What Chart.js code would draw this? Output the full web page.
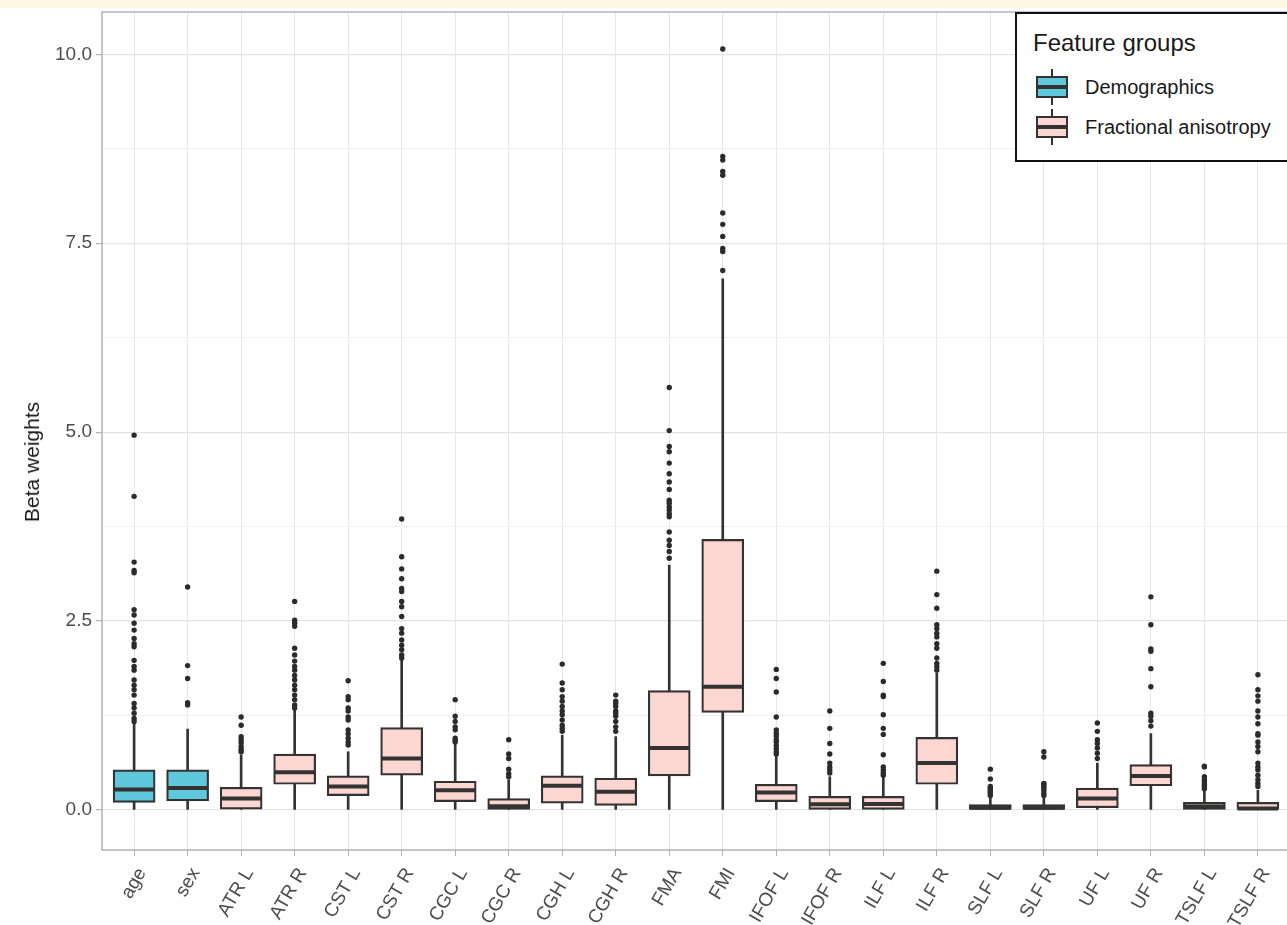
<!DOCTYPE html>
<html>
<head>
<meta charset="utf-8">
<script src="https://cdn.jsdelivr.net/npm/chart.js@4"></script>
<style>
html,body{margin:0;padding:0;background:#fff;overflow:hidden;width:1287px;height:925px;}
#wrap{position:relative;width:1290px;height:925px;}
#band{position:absolute;left:0;top:0;width:1290px;height:8px;background:#fdf8e4;z-index:2;}
#c{position:absolute;left:0;top:0;}
#ytitle{position:absolute;left:32px;top:462px;transform:translate(-50%,-50%) rotate(-90deg);font:21px "Liberation Sans",Arial,sans-serif;color:#1a1a1a;white-space:nowrap;}
#legend{position:absolute;left:1015px;top:12px;width:290px;height:150px;border:2px solid #111;background:#fff;box-sizing:border-box;font-family:"Liberation Sans",Arial,sans-serif;color:#1a1a1a;}
#legend .title{position:absolute;left:16px;top:29px;transform:translateY(-50%);font-size:24px;white-space:nowrap;}
#legend .lab{position:absolute;left:68px;transform:translateY(-50%);font-size:20px;white-space:nowrap;}
#legend .wh{position:absolute;left:34px;width:2px;background:#333;}
#legend .bx{position:absolute;left:19px;width:32px;border:2px solid #333;box-sizing:border-box;}
#legend .md{position:absolute;left:19px;width:32px;height:4px;background:#333;}
</style>
</head>
<body>
<div id="wrap">
  <div id="band"></div>
  <canvas id="c" width="1290" height="925"></canvas>
  <div id="ytitle">Beta weights</div>
  <div id="legend"></div>
</div>
<script>
const categories = ['age','sex','ATR L','ATR R','CST L','CST R','CGC L','CGC R','CGH L','CGH R','FMA','FMI','IFOF L','IFOF R','ILF L','ILF R','SLF L','SLF R','UF L','UF R','TSLF L','TSLF R'];
const groupOf = ['Demographics','Demographics','Fractional anisotropy','Fractional anisotropy','Fractional anisotropy','Fractional anisotropy','Fractional anisotropy','Fractional anisotropy','Fractional anisotropy','Fractional anisotropy','Fractional anisotropy','Fractional anisotropy','Fractional anisotropy','Fractional anisotropy','Fractional anisotropy','Fractional anisotropy','Fractional anisotropy','Fractional anisotropy','Fractional anisotropy','Fractional anisotropy','Fractional anisotropy','Fractional anisotropy'];

const lowerWhisker = [0,0,0,0,0,0,0,0,0,0,0,0,0,0,0,0,0,0,0,0,0,0];
const q1 =     [0.10,0.12,0.01,0.34,0.19,0.46,0.11,0.00,0.09,0.06,0.45,1.29,0.11,0.00,0.00,0.34,0.00,0.00,0.03,0.32,0.00,0.00];
const median = [0.27,0.29,0.15,0.50,0.31,0.68,0.26,0.05,0.32,0.24,0.82,1.63,0.23,0.075,0.08,0.62,0.03,0.03,0.15,0.45,0.045,0.02];
const q3 =     [0.53,0.53,0.30,0.74,0.45,1.09,0.38,0.15,0.45,0.42,1.58,3.58,0.34,0.18,0.18,0.96,0.07,0.07,0.29,0.60,0.10,0.10];
const upperWhisker = [1.15,1.07,0.73,1.33,0.77,1.98,0.87,0.40,0.99,0.97,3.24,7.03,0.71,0.44,0.44,1.81,0.17,0.16,0.62,1.01,0.25,0.26];

const outliers = [
  [4.96,4.15,3.28,3.17,3.14,2.65,2.58,2.47,2.38,2.27,2.20,2.16,1.98,1.90,1.85,1.72,1.65,1.59,1.52,1.41,1.35,1.28,1.21,1.17],
  [2.95,1.91,1.74,1.42,1.39],
  [1.23,1.12,0.97,0.93,0.89,0.84,0.80,0.77],
  [2.76,2.51,2.47,2.43,2.14,2.05,1.97,1.90,1.85,1.78,1.72,1.65,1.59,1.52,1.46,1.39,1.35],
  [1.71,1.50,1.46,1.35,1.31,1.23,1.19,1.06,1.01,0.95,0.90,0.86],
  [3.85,3.35,3.19,3.06,2.93,2.89,2.76,2.69,2.56,2.40,2.34,2.25,2.18,2.12,2.05,2.01],
  [1.46,1.24,1.17,1.10,1.06,0.95,0.92,0.90],
  [0.93,0.74,0.68,0.54,0.48,0.44],
  [1.93,1.68,1.59,1.50,1.44,1.37,1.31,1.26,1.19,1.12,1.08,1.04],
  [1.52,1.44,1.41,1.37,1.31,1.28,1.24,1.17,1.10,1.04],
  [5.59,5.02,4.81,4.74,4.59,4.45,4.34,4.24,4.10,4.06,4.01,3.97,3.92,3.88,3.68,3.57,3.50,3.42,3.33],
  [10.07,8.65,8.60,8.45,8.40,7.90,7.75,7.59,7.43,7.39,7.14],
  [1.86,1.74,1.56,1.23,1.06,1.02,0.98,0.93,0.90,0.85,0.81,0.77,0.74],
  [1.31,1.08,0.88,0.74,0.62,0.57,0.53,0.49],
  [1.94,1.70,1.52,1.50,1.26,1.08,1.00,0.73,0.57,0.53,0.49,0.46],
  [3.16,2.85,2.67,2.45,2.40,2.34,2.29,2.20,2.14,2.01,1.94,1.90,1.85],
  [0.54,0.41,0.31,0.29,0.27,0.25,0.23,0.21,0.19],
  [0.77,0.70,0.35,0.34,0.31,0.29,0.26,0.22,0.19],
  [1.15,1.04,0.93,0.88,0.82,0.75,0.68],
  [2.82,2.45,2.13,2.10,1.87,1.63,1.28,1.24,1.18,1.11],
  [0.58,0.57,0.44,0.40,0.37,0.34,0.31,0.28],
  [1.79,1.59,1.51,1.44,1.31,1.23,1.14,1.01,0.99,0.90,0.84,0.77,0.62,0.57,0.53,0.46,0.40,0.35,0.31]
];

const yMajorTicks = [0, 2.5, 5, 7.5, 10];
const yMinorTicks = [1.25, 3.75, 6.25, 8.75];
const legendTitle = 'Feature groups';
const legendGroups = ['Demographics', 'Fractional anisotropy'];
const groupColors = ['#5fc8da', '#fcd6d0'];

const FONT = '"Liberation Sans", Arial, sans-serif';
const idx = categories.map((_, i) => i);
const boxFill = groupOf.map(g => groupColors[legendGroups.indexOf(g)]);
const isMajor = v => yMajorTicks.some(m => Math.abs(m - v) < 1e-9);

const panelBorder = {
  id: 'panelBorder',
  afterDatasetsDraw(chart) {
    const {ctx, chartArea: a} = chart;
    ctx.save();
    ctx.strokeStyle = '#b3b3b3';
    ctx.lineWidth = 1.5;
    ctx.strokeRect(a.left, a.top, a.right - a.left, a.bottom - a.top);
    ctx.restore();
  }
};

new Chart(document.getElementById('c'), {
  type: 'bar',
  data: {
    datasets: [
      {
        type: 'bar', label: 'whiskers',
        data: idx.map(i => ({x: i, y: [lowerWhisker[i], upperWhisker[i]]})),
        backgroundColor: '#333333', barThickness: 2, grouped: false, order: 4
      },
      {
        type: 'bar', label: 'boxes',
        data: idx.map(i => ({x: i, y: [q1[i], q3[i]]})),
        backgroundColor: boxFill, borderColor: '#333333', borderWidth: 2.2,
        borderSkipped: false, barThickness: 42, grouped: false, order: 3
      },
      {
        type: 'scatter', label: 'medians',
        data: idx.map(i => ({x: i, y: median[i]})),
        pointStyle: 'line', pointRadius: 20, pointBorderWidth: 4,
        pointBorderColor: '#333333', pointHoverRadius: 20, order: 2
      },
      {
        type: 'scatter', label: 'outliers',
        data: outliers.flatMap((arr, i) => arr.map(v => ({x: i, y: v}))),
        pointRadius: 2.7, pointBackgroundColor: '#2b2b2b', pointBorderWidth: 0,
        pointHoverRadius: 2.7, order: 1
      }
    ]
  },
  options: {
    responsive: false,
    animation: false,
    devicePixelRatio: 1,
    layout: {autoPadding: false, padding: {top: 12, left: 0, right: 0, bottom: 0}},
    plugins: {legend: {display: false}, tooltip: {enabled: false}},
    scales: {
      x: {
        type: 'linear', min: -0.6, max: 21.6, offset: false,
        afterBuildTicks: s => { s.ticks = idx.map(v => ({value: v})); },
        afterFit: s => { s.height = 75; s.paddingLeft = 0; s.paddingRight = 0; },
        ticks: {
          callback: v => categories[v] ?? '',
          autoSkip: false, minRotation: 60, maxRotation: 60, labelOffset: 8,
          font: {size: 19, family: FONT}, color: '#4d4d4d', padding: 8
        },
        grid: {offset: false, color: '#e6e6e6', lineWidth: 1, tickColor: '#b3b3b3', tickLength: 6},
        border: {display: false}
      },
      y: {
        type: 'linear', min: -0.53, max: 10.56,
        afterBuildTicks: s => {
          s.ticks = [...yMajorTicks, ...yMinorTicks].sort((a, b) => a - b).map(v => ({value: v}));
        },
        afterFit: s => { s.width = 102; s.paddingTop = 0; s.paddingBottom = 0; },
        ticks: {
          callback: v => isMajor(v) ? v.toFixed(1) : '',
          font: {size: 19, family: FONT}, color: '#4d4d4d', padding: 4
        },
        grid: {
          color: c => (c.tick && isMajor(c.tick.value)) ? '#e3e3e3' : '#efefef',
          lineWidth: c => (c.tick && isMajor(c.tick.value)) ? 1.2 : 0.9,
          tickColor: c => (c.tick && isMajor(c.tick.value)) ? '#b3b3b3' : 'rgba(0,0,0,0)',
          tickLength: 6
        },
        border: {display: false}
      }
    }
  },
  plugins: [panelBorder]
});

// legend (HTML overlay)
const lg = document.getElementById('legend');
let html = '<div class="title">' + legendTitle + '</div>';
legendGroups.forEach((g, k) => {
  const cy = 73 + k * 40;
  html += '<div class="wh" style="top:' + (cy - 18) + 'px;height:36px"></div>';
  html += '<div class="bx" style="top:' + (cy - 11) + 'px;height:22px;background:' + groupColors[k] + '"></div>';
  html += '<div class="md" style="top:' + (cy - 2) + 'px"></div>';
  html += '<div class="lab" style="top:' + cy + 'px">' + g + '</div>';
});
lg.innerHTML = html;
</script>
</body>
</html>
